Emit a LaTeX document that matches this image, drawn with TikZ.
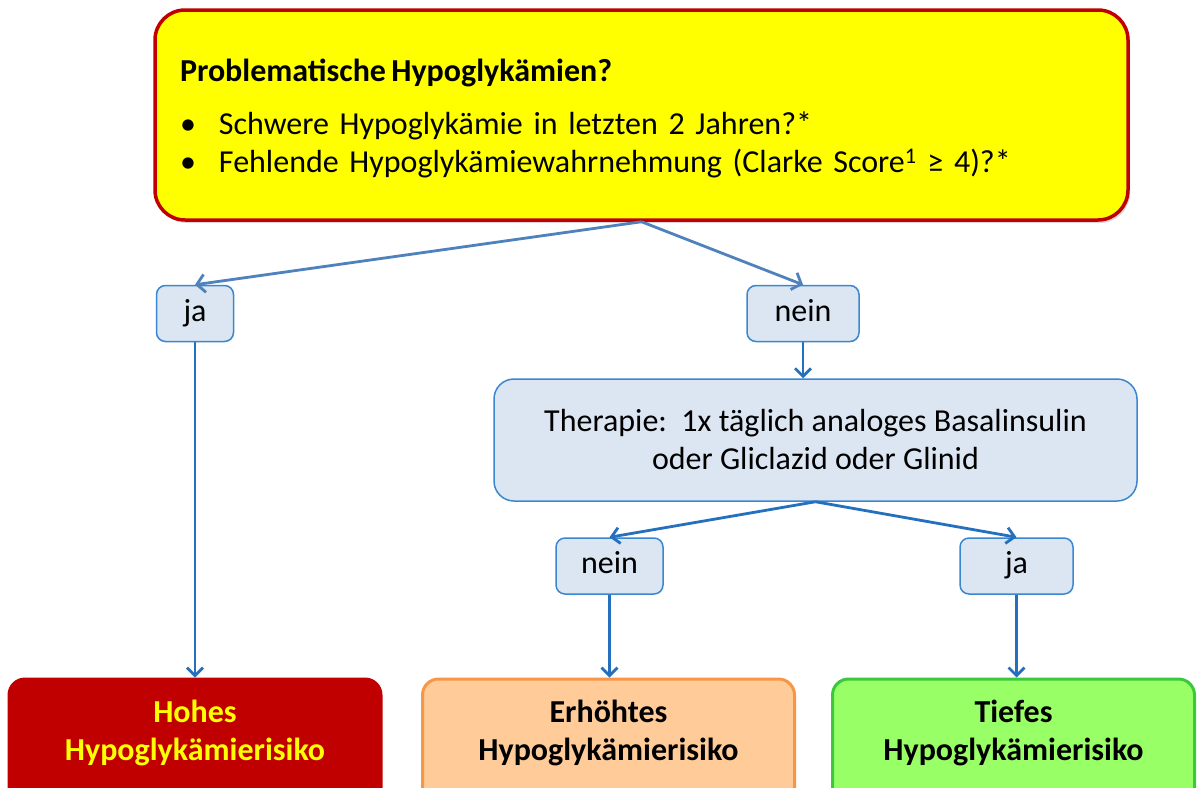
\documentclass[tikz,border=0pt]{standalone}
\usepackage{fontspec}
\setmainfont{Carlito}
\usetikzlibrary{arrows.meta,shadows}

\definecolor{boxred}{HTML}{C00000}
\definecolor{boxyellow}{HTML}{FFFF00}
\definecolor{paleblue}{HTML}{DCE6F2}
\definecolor{edgeblue}{HTML}{3A87CF}
\definecolor{flowblue}{HTML}{4F81BD}
\definecolor{stepblue}{HTML}{2570BE}
\definecolor{orangefill}{HTML}{FFCC99}
\definecolor{orangeedge}{HTML}{F79646}
\definecolor{greenfill}{HTML}{99FF66}
\definecolor{greenedge}{HTML}{3CC83C}

\tikzset{
  txt/.style={font=\fontsize{32}{38}\selectfont},
  frage/.style={draw=boxred, fill=boxyellow, line width=3.5pt, rounded corners=30pt,
    drop shadow={shadow xshift=2pt, shadow yshift=-3pt, opacity=0.3},
    align=left, inner xsep=25pt, txt},
  antwort/.style={draw=edgeblue, fill=paleblue, line width=1.5pt, rounded corners=9pt,
    minimum height=56pt, text height=22pt, text depth=7pt, txt},
  therapie/.style={draw=edgeblue, fill=paleblue, line width=1.5pt, rounded corners=20pt,
    minimum width=643pt, minimum height=122pt, align=center, txt},
  risiko/.style={line width=3pt, rounded corners=16pt, minimum width=372pt, minimum height=140pt},
  risikotext/.style={align=center, font=\fontsize{32}{38}\selectfont\bfseries},
  flow/.style={draw=flowblue, line width=2.8pt, -{Straight Barb[length=8pt,width=18pt]}},
  down/.style={draw=stepblue, line width=2.8pt, -{Straight Barb[length=8pt,width=16pt]}}
}

\begin{document}
\begin{tikzpicture}[x=1pt,y=-1pt]
			%%%%% START %%%%%
			\useasboundingbox (0,0) rectangle (1198,787);
			
			\node[frage, text width=923pt, minimum height=210pt] (frage) at (641.5,115)
			  {\rule{0pt}{30pt}{\bfseries Problematische\,Hypoglykämien?}\\[15pt]
			   \makebox[39pt][l]{\textbullet}Schwere Hypoglykämie in letzten 2 Jahren?*\\
			   \makebox[39pt][l]{\textbullet}Fehlende Hypoglykämiewahrnehmung (Clarke Score\textsuperscript{1} ≥ 4)?*};
			
			\node[antwort, minimum width=77pt] (ja) at (195,313.5) {ja};
			\node[antwort, minimum width=112pt] (nein) at (803,313.5) {nein};
			
			\node[therapie] (therapie) at (815.5,440)
			  {Therapie:\ \ 1x täglich analoges Basalinsulin\\oder Gliclazid oder Glinid};
			
			\node[antwort, minimum width=107pt] (neinzwei) at (609.5,566) {nein};
			\node[antwort, minimum width=113pt] (jazwei) at (1016.5,566) {ja};
			
			\node[risiko, draw=boxred, fill=boxred,
			  label={[risikotext, text=boxyellow, yshift=16pt]center:Hohes\\Hypoglykämierisiko}]
			  (hoch) at (195,749) {};
			\node[risiko, draw=orangeedge, fill=orangefill,
			  label={[risikotext, yshift=16pt]center:Erhöhtes\\Hypoglykämierisiko}]
			  (erhoeht) at (608.5,749) {};
			\node[risiko, draw=greenedge, fill=greenfill, minimum width=362pt,
			  label={[risikotext, yshift=16pt]center:Tiefes\\Hypoglykämierisiko}]
			  (tief) at (1013.5,749) {};
			
			\draw[flow] (frage.south) -- (ja.north);
			\draw[flow] (frage.south) -- (nein.north);
			\draw[down] (nein.south) -- (therapie.north -| nein.south);
			\draw[down] (therapie.south) -- (neinzwei.north);
			\draw[down] (therapie.south) -- (jazwei.north);
			\draw[down] (ja.south) -- (hoch.north -| ja.south);
			\draw[down] (neinzwei.south) -- (erhoeht.north -| neinzwei.south);
			\draw[down] (jazwei.south) -- (tief.north -| jazwei.south);
			
			%%%%% END %%%%%
\end{tikzpicture}
\end{document}
